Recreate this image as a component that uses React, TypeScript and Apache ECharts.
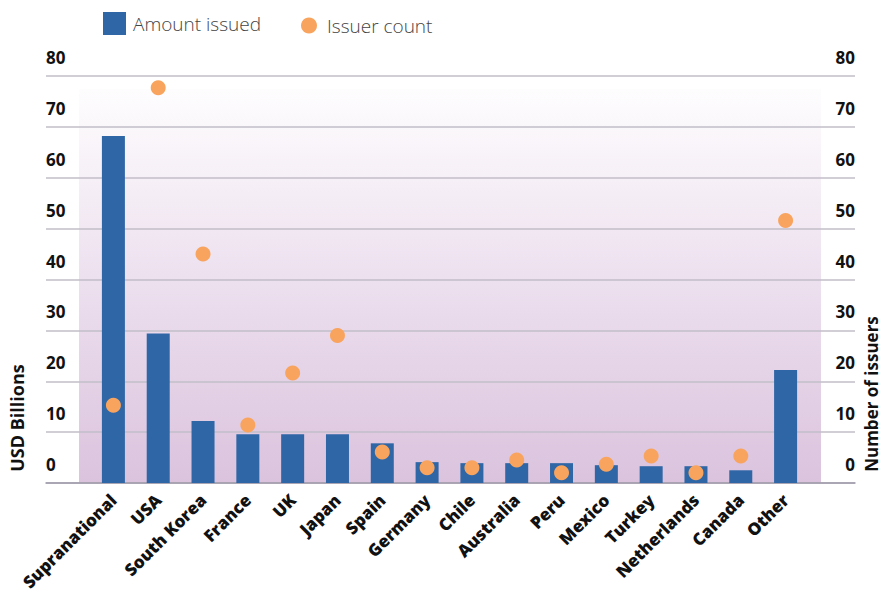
import React, { useEffect, useRef } from "react";
import * as echarts from "echarts";

const categories = [
  "Supranational", "USA", "South Korea", "France", "UK", "Japan", "Spain", "Germany",
  "Chile", "Australia", "Peru", "Mexico", "Turkey", "Netherlands", "Canada", "Other",
];
const amountIssued = [68.2, 29.4, 12.2, 9.6, 9.6, 9.6, 7.8, 4.1, 3.9, 3.9, 3.9, 3.5, 3.3, 3.3, 2.5, 22.2];
const issuerCount = [15.3, 77.7, 45, 11.4, 21.6, 29, 6.1, 3, 3, 4.5, 2, 3.7, 5.3, 2, 5.3, 51.6];
const axisMin = 0;
const axisMax = 80;
const axisInterval = 10;

const BLUE = "#2f66a6";
const ORANGE = "#f9a45e";
const NUM_FONT = "'Open Sans', 'Noto Sans', sans-serif";

export default function App() {
  const ref = useRef<HTMLDivElement>(null);
  useEffect(() => {
    if (!ref.current) return;
    const chart = echarts.init(ref.current, null, { renderer: "svg" });
    const valueLabel = (inside: boolean) => ({
      inside,
      margin: 0,
      color: "#111",
      fontFamily: NUM_FONT,
      fontWeight: "bold" as const,
      fontSize: 17,
      lineHeight: 17,
      verticalAlign: "bottom" as const,
      padding: [0, 0, 10, 0],
    });
    const legendText = { color: "#444", fontSize: 19, fontWeight: 300, fontFamily: "'Open Sans', sans-serif" };
    chart.setOption({
      animation: false,
      backgroundColor: "#ffffff",
      legend: [
        {
          left: 103,
          top: 12,
          padding: 0,
          itemWidth: 23,
          itemHeight: 23,
          data: [{ name: "Amount issued", icon: "rect" }],
          textStyle: { ...legendText, padding: [0, 0, 0, 2] },
        },
        {
          left: 301,
          top: 16,
          padding: 0,
          itemWidth: 16,
          itemHeight: 16,
          data: [{ name: "Issuer count", icon: "circle" }],
          textStyle: { ...legendText, padding: [0, 0, 0, 5] },
        },
      ],
      grid: [
        { left: 46, right: 26, top: 76, bottom: 111 },
        { left: 91, right: 73, top: 76, bottom: 111 },
      ],
      graphic: [
        {
          type: "rect",
          z: -10,
          silent: true,
          shape: { x: 79, y: 89, width: 742, height: 394 },
          style: {
            fill: new echarts.graphic.LinearGradient(0, 0, 0, 1, [
              { offset: 0, color: "#fefdfe" },
              { offset: 0.5, color: "#ecdfee" },
              { offset: 1, color: "#dbc3de" },
            ]),
          },
        },
        {
          type: "text",
          x: 17,
          y: 418,
          rotation: Math.PI / 2,
          style: {
            text: "USD Billions",
            fill: "#111",
            font: "bold 18px 'Open Sans', sans-serif",
            align: "center",
            verticalAlign: "middle",
          },
        },
        {
          type: "text",
          x: 871,
          y: 394,
          rotation: Math.PI / 2,
          style: {
            text: "Number of issuers",
            fill: "#111",
            font: "bold 17px 'Open Sans', sans-serif",
            align: "center",
            verticalAlign: "middle",
          },
        },
      ],
      xAxis: [
        {
          gridIndex: 0,
          type: "category",
          data: [],
          axisLine: { show: true, lineStyle: { color: "#9f99a8", width: 1.5 } },
          axisTick: { show: false },
          axisLabel: { show: false },
          splitLine: { show: false },
        },
        {
          gridIndex: 1,
          type: "category",
          data: categories,
          axisLine: { show: false },
          axisTick: { show: false },
          axisLabel: {
            rotate: 45,
            interval: 0,
            margin: 14,
            color: "#111",
            fontWeight: 800,
            fontSize: 17,
            fontFamily: NUM_FONT,
          },
        },
      ],
      yAxis: [
        {
          gridIndex: 0,
          type: "value",
          position: "left",
          min: axisMin,
          max: axisMax,
          interval: axisInterval,
          axisLine: { show: false },
          axisTick: { show: false },
          axisLabel: valueLabel(true),
          splitLine: { show: true, lineStyle: { color: "#c2bec8", width: 1.5 } },
        },
        {
          gridIndex: 0,
          type: "value",
          position: "right",
          min: axisMin,
          max: axisMax,
          interval: axisInterval,
          axisLine: { show: false },
          axisTick: { show: false },
          axisLabel: valueLabel(true),
          splitLine: { show: false },
        },
        {
          gridIndex: 1,
          type: "value",
          min: axisMin,
          max: axisMax,
          interval: axisInterval,
          show: false,
        },
        {
          gridIndex: 1,
          type: "value",
          position: "right",
          min: axisMin,
          max: axisMax,
          interval: axisInterval,
          show: false,
        },
      ],
      series: [
        {
          name: "Amount issued",
          type: "bar",
          xAxisIndex: 1,
          yAxisIndex: 2,
          barWidth: 23,
          itemStyle: { color: BLUE },
          data: amountIssued,
        },
        {
          name: "Issuer count",
          type: "scatter",
          xAxisIndex: 1,
          yAxisIndex: 3,
          symbolSize: 15,
          itemStyle: { color: ORANGE, opacity: 1 },
          data: issuerCount,
        },
      ],
    });
    return () => chart.dispose();
  }, []);
  return (
    <div
      ref={ref}
      style={{ position: "absolute", left: 0, top: 0, width: 881, height: 594 }}
    />
  );
}
